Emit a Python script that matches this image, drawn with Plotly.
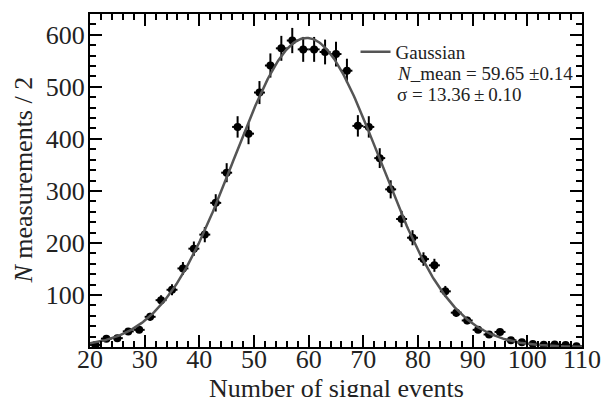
import numpy as np
import plotly.graph_objects as go

# ---- data ----
bin_centers = [21, 23, 25, 27, 29, 31, 33, 35, 37, 39, 41, 43, 45, 47, 49,
               51, 53, 55, 57, 59, 61, 63, 65, 67, 69, 71, 73, 75, 77, 79,
               81, 83, 85, 87, 89, 91, 93, 95, 97, 99, 101, 103, 105, 107, 109]
counts = [4, 16, 17, 30, 33, 58, 90, 110, 151, 189, 216, 277, 335, 423, 410,
          489, 541, 574, 589, 572, 572, 567, 563, 531, 425, 423, 363, 303, 246, 210,
          169, 157, 107, 66, 51, 33, 24, 29, 13, 9, 6, 4.5, 5, 4, 1.5]
bin_half_width = 1.0

# fit parameters (shown in legend)
fit_mean = 59.65
fit_mean_err = 0.14
fit_sigma = 13.36
fit_sigma_err = 0.10
fit_amplitude = 594.0

x_ticks = [20, 30, 40, 50, 60, 70, 80, 90, 100, 110]
y_ticks = [100, 200, 300, 400, 500, 600]

FONT = "Liberation Serif"
TXT = "#222222"

errors = np.sqrt(np.array(counts, dtype=float))
xc = np.linspace(20, 110, 400)
yc = fit_amplitude * np.exp(-0.5 * ((xc - fit_mean) / fit_sigma) ** 2)

fig = go.Figure()
fig.add_trace(go.Scatter(
    x=bin_centers, y=counts, mode="markers", showlegend=False,
    marker=dict(color="black", size=8),
    error_y=dict(type="data", array=errors, color="black", thickness=2, width=0),
    error_x=dict(type="constant", value=bin_half_width, color="black", thickness=2, width=0),
))
fig.add_trace(go.Scatter(
    x=xc, y=yc, mode="lines", name="Gaussian",
    line=dict(color="#555555", width=2.5),
))

axis_common = dict(
    showline=True, linecolor="black", linewidth=2, mirror="ticks",
    ticks="inside", tickcolor="black", tickwidth=1.5,
    showgrid=False, zeroline=False, ticklabeloverflow="allow",
    tickfont=dict(family=FONT, size=26, color=TXT),
)
fig.update_xaxes(range=[20, 110], tickvals=x_ticks, ticklen=12, ticklabelstandoff=-12,
                 minor=dict(dtick=2, tick0=0, ticks="inside", ticklen=6,
                            tickcolor="black", tickwidth=1.5, showgrid=False),
                 **axis_common)
fig.update_yaxes(range=[0, 640], tickvals=y_ticks, ticklen=12, ticklabelstandoff=-2,
                 minor=dict(dtick=20, tick0=0, ticks="inside", ticklen=6,
                            tickcolor="black", tickwidth=1.5, showgrid=False),
                 **axis_common)

fig.add_annotation(text="Number of signal events", xref="paper", yref="paper",
                   x=0.5, y=-0.075, xanchor="center", yanchor="top", showarrow=False,
                   font=dict(family=FONT, size=26, color=TXT))
fig.add_annotation(text="<i>N</i> measurements / 2", xref="paper", yref="paper",
                   x=-0.136, y=0.5, xanchor="center", yanchor="middle", textangle=-90,
                   showarrow=False, font=dict(family=FONT, size=26, color=TXT))

fig.add_annotation(text=f"<i>N</i>_mean = {fit_mean:.2f} \u00b1{fit_mean_err:.2f}",
                   xref="paper", yref="paper", x=(402 - 90) / 504, y=1 - (73 - 14) / 333,
                   xanchor="left", yanchor="middle", showarrow=False,
                   font=dict(family=FONT, size=19, color=TXT))
fig.add_annotation(text=f"\u03c3 = {fit_sigma:.2f}\u2009\u00b1\u2009{fit_sigma_err:.2f}",
                   xref="paper", yref="paper", x=(402 - 90) / 504, y=1 - (95 - 14) / 333,
                   xanchor="left", yanchor="middle", showarrow=False,
                   font=dict(family=FONT, size=19, color=TXT))

fig.update_layout(
    width=613, height=397,
    margin=dict(l=90, r=19, t=14, b=50),
    paper_bgcolor="white", plot_bgcolor="white",
    legend=dict(x=(362 - 90) / 504, y=1 - (33 - 14) / 333, xanchor="left", yanchor="top",
                bgcolor="rgba(0,0,0,0)", borderwidth=0, itemwidth=30,
                font=dict(family=FONT, size=19, color=TXT)),
)

fig.write_html("out.html")
